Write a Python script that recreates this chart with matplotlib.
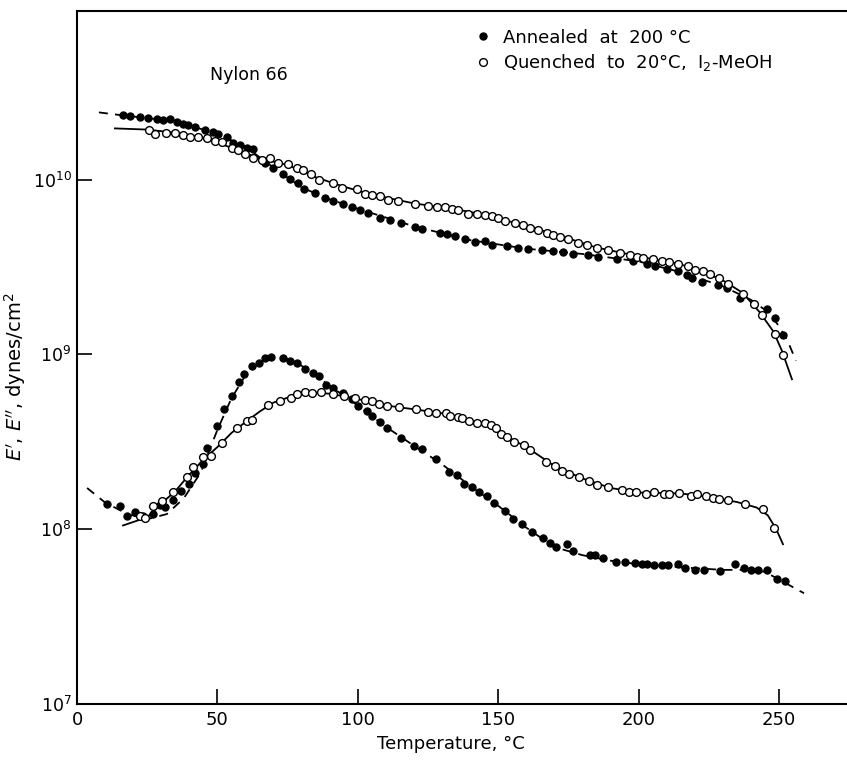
import matplotlib
matplotlib.use("Agg")
import matplotlib.pyplot as plt
import numpy as np

plt.rcParams['font.family'] = ['DejaVu Sans']

# ---------------- data ----------------
# Annealed at 200 C : E' (storage modulus), filled circles
ann_Ep_T = [16.4, 18.9, 22.4, 25.3, 28.5, 30.6, 33.1, 35.6, 37.7, 39.5, 42.0, 45.6, 48.4, 50.2, 53.4,
            55.6, 58.0, 60.5, 62.7, 67.0, 69.8, 73.4, 75.9, 78.7, 80.8, 84.8, 88.3, 91.2, 94.7, 97.9,
            100.8, 103.6, 107.9, 111.5, 115.4, 120.4, 122.9, 129.3, 131.8, 134.6, 138.2, 141.7, 145.3,
            147.8, 153.1, 157.1, 160.6, 165.6, 169.5, 173.1, 176.6, 182.0, 185.5, 192.3, 198.0, 203.0,
            205.8, 210.1, 214.0, 217.2, 219.0, 222.6, 228.3, 231.5, 236.1, 245.7, 248.6, 251.4]
ann_Ep_E = [2.33e10, 2.30e10, 2.27e10, 2.24e10, 2.21e10, 2.18e10, 2.21e10, 2.12e10, 2.09e10, 2.04e10,
            1.99e10, 1.91e10, 1.86e10, 1.81e10, 1.74e10, 1.61e10, 1.57e10, 1.52e10, 1.49e10, 1.24e10,
            1.16e10, 1.08e10, 1.01e10, 9.61e9, 8.77e9, 8.42e9, 7.88e9, 7.58e9, 7.28e9, 6.92e9,
            6.73e9, 6.47e9, 6.05e9, 5.90e9, 5.67e9, 5.38e9, 5.24e9, 4.97e9, 4.91e9, 4.78e9, 4.59e9,
            4.41e9, 4.47e9, 4.24e9, 4.18e9, 4.07e9, 4.02e9, 3.97e9, 3.92e9, 3.87e9, 3.77e9, 3.72e9,
            3.62e9, 3.53e9, 3.44e9, 3.30e9, 3.21e9, 3.09e9, 3.01e9, 2.85e9, 2.74e9, 2.60e9, 2.50e9,
            2.40e9, 2.11e9, 1.82e9, 1.62e9, 1.29e9]
ann_Ep_curve_T = [7.8, 16, 30, 40, 50, 60, 70, 80, 90, 100, 120, 140, 160, 180, 200, 215, 230, 240,
                  246, 250, 253, 256]
ann_Ep_curve_E = [2.42e10, 2.33e10, 2.2e10, 2.04e10, 1.82e10, 1.54e10, 1.17e10, 9.0e9, 7.7e9, 6.8e9,
                  5.4e9, 4.5e9, 4.02e9, 3.75e9, 3.4e9, 2.95e9, 2.45e9, 2.05e9, 1.75e9, 1.45e9, 1.2e9,
                  9.2e8]

# Quenched to 20 C, I2-MeOH : E', open circles
que_Ep_T = [25.6, 27.8, 31.7, 34.9, 37.7, 40.2, 43.1, 46.3, 49.1, 51.6, 55.2, 57.3, 59.8, 62.7, 65.9,
            68.7, 71.6, 75.1, 78.3, 80.5, 83.3, 86.2, 91.2, 94.4, 99.7, 102.6, 105.1, 107.9, 110.8,
            114.3, 120.4, 125.0, 128.2, 131.1, 133.5, 135.7, 139.2, 142.5, 145.3, 147.8, 149.9, 152.4,
            156.0, 158.8, 161.3, 164.2, 167.4, 169.5, 172.0, 174.9, 178.4, 181.6, 185.2, 189.1, 193.4,
            196.9, 199.4, 201.6, 205.1, 208.3, 210.8, 214.0, 217.6, 220.1, 222.9, 225.4, 228.6, 231.8,
            237.2, 241.1, 243.9, 248.6, 251.4]
que_Ep_E = [1.91e10, 1.81e10, 1.84e10, 1.84e10, 1.79e10, 1.76e10, 1.74e10, 1.72e10, 1.67e10, 1.63e10,
            1.51e10, 1.47e10, 1.39e10, 1.32e10, 1.30e10, 1.32e10, 1.25e10, 1.22e10, 1.17e10, 1.13e10,
            1.07e10, 1.00e10, 9.61e9, 9.0e9, 8.88e9, 8.31e9, 8.20e9, 8.0e9, 7.68e9, 7.58e9, 7.28e9,
            7.10e9, 7.0e9, 6.92e9, 6.82e9, 6.73e9, 6.38e9, 6.38e9, 6.30e9, 6.22e9, 6.05e9, 5.82e9,
            5.67e9, 5.52e9, 5.31e9, 5.17e9, 4.97e9, 4.84e9, 4.71e9, 4.59e9, 4.36e9, 4.24e9, 4.07e9,
            3.97e9, 3.82e9, 3.72e9, 3.62e9, 3.57e9, 3.53e9, 3.44e9, 3.39e9, 3.30e9, 3.21e9, 3.05e9,
            3.01e9, 2.89e9, 2.74e9, 2.54e9, 2.22e9, 1.95e9, 1.68e9, 1.31e9, 9.93e8]
que_Ep_curve_T = [13.5, 25, 35, 45, 55, 65, 75, 85, 95, 105, 120, 135, 145, 155, 165, 175, 185, 195,
                  205, 215, 222, 230, 237, 243, 248, 251, 254.6]
que_Ep_curve_E = [1.96e10, 1.93e10, 1.85e10, 1.73e10, 1.52e10, 1.32e10, 1.21e10, 1.03e10, 9.1e9,
                  8.2e9, 7.3e9, 6.75e9, 6.3e9, 5.7e9, 5.15e9, 4.6e9, 4.08e9, 3.78e9, 3.5e9, 3.27e9,
                  3.0e9, 2.65e9, 2.25e9, 1.75e9, 1.35e9, 1.05e9, 7.2e8]

# Annealed : E'' (loss modulus), filled circles
ann_Epp_T = [10.7, 15.3, 17.8, 20.7, 23.5, 27.1, 29.6, 31.3, 34.2, 37.0, 39.9, 42.0, 44.9, 46.3, 49.9,
             52.4, 55.2, 57.7, 59.5, 62.3, 64.8, 67.0, 69.1, 73.4, 75.9, 78.3, 81.2, 84.0, 86.2, 88.7,
             91.2, 94.7, 97.9, 100.1, 103.3, 105.1, 107.9, 110.4, 115.4, 120.0, 122.9, 127.8, 132.5,
             135.3, 137.8, 140.7, 143.2, 146.0, 148.5, 152.4, 155.3, 158.5, 162.0, 166.0, 168.4, 170.6,
             174.5, 176.6, 182.7, 184.5, 187.3, 192.0, 195.2, 198.7, 201.2, 203.0, 205.5, 208.3, 210.5,
             214.0, 216.5, 220.1, 223.3, 229.0, 234.3, 237.5, 240.0, 242.5, 245.7, 249.3, 252.1]
ann_Epp_E = [1.39e8, 1.36e8, 1.19e8, 1.25e8, 1.19e8, 1.22e8, 1.37e8, 1.34e8, 1.47e8, 1.65e8, 1.81e8,
             2.09e8, 2.36e8, 2.91e8, 3.89e8, 4.87e8, 5.78e8, 6.95e8, 7.73e8, 8.59e8, 8.94e8, 9.55e8,
             9.68e8, 9.55e8, 9.18e8, 8.94e8, 8.26e8, 7.83e8, 7.53e8, 6.68e8, 6.43e8, 6.01e8, 5.56e8,
             5.07e8, 4.75e8, 4.44e8, 4.10e8, 3.79e8, 3.32e8, 2.99e8, 2.87e8, 2.52e8, 2.12e8, 2.04e8,
             1.81e8, 1.74e8, 1.63e8, 1.55e8, 1.41e8, 1.27e8, 1.14e8, 1.07e8, 9.61e7, 8.87e7, 8.31e7,
             7.89e7, 8.20e7, 7.48e7, 7.10e7, 7.10e7, 6.82e7, 6.47e7, 6.47e7, 6.38e7, 6.30e7, 6.30e7,
             6.22e7, 6.22e7, 6.22e7, 6.30e7, 5.98e7, 5.82e7, 5.82e7, 5.74e7, 6.30e7, 5.98e7, 5.82e7,
             5.82e7, 5.82e7, 5.17e7, 5.04e7]
ann_Epp_curve_T = [3.6, 10, 18, 25, 32, 38, 44, 50, 55, 60, 65, 70, 75, 80, 85, 90, 100, 110, 120, 130,
                   140, 150, 160, 170, 180, 190, 200, 215, 230, 240, 245, 250, 258.9]
ann_Epp_curve_E = [1.72e8, 1.42e8, 1.22e8, 1.14e8, 1.22e8, 1.5e8, 2.1e8, 3.7e8, 5.6e8, 7.6e8, 9.0e8,
                   9.6e8, 9.4e8, 8.6e8, 7.6e8, 6.6e8, 5.1e8, 3.85e8, 3.0e8, 2.35e8, 1.77e8, 1.36e8,
                   1.02e8, 7.9e7, 7.1e7, 6.6e7, 6.3e7, 6.05e7, 5.85e7, 5.85e7, 5.7e7, 5.15e7, 4.3e7]

# Quenched : E'', open circles
que_Epp_T = [22.4, 24.2, 27.1, 30.3, 34.2, 39.2, 41.3, 44.9, 47.7, 51.6, 57.0, 60.5, 62.3, 68.0, 72.3,
             76.2, 78.3, 81.2, 83.7, 86.9, 91.2, 95.1, 99.0, 102.6, 105.1, 107.5, 110.4, 114.7, 120.7,
             125.0, 127.8, 131.4, 132.8, 135.7, 137.1, 139.6, 142.5, 145.3, 147.4, 149.2, 151.0, 153.1,
             155.6, 159.2, 161.3, 167.0, 170.2, 172.7, 175.2, 178.8, 182.3, 185.2, 189.1, 194.1, 196.6,
             199.1, 202.6, 205.5, 209.0, 210.8, 214.4, 218.7, 220.8, 224.0, 226.5, 228.6, 231.8, 237.9,
             244.3, 248.2]
que_Epp_E = [1.19e8, 1.16e8, 1.36e8, 1.45e8, 1.63e8, 1.99e8, 2.26e8, 2.59e8, 2.62e8, 3.11e8, 3.79e8,
             4.16e8, 4.22e8, 5.14e8, 5.42e8, 5.64e8, 5.94e8, 6.10e8, 6.01e8, 6.10e8, 5.94e8, 5.78e8,
             5.64e8, 5.48e8, 5.42e8, 5.20e8, 5.07e8, 5.00e8, 4.87e8, 4.68e8, 4.62e8, 4.62e8, 4.44e8,
             4.38e8, 4.33e8, 4.16e8, 4.05e8, 4.05e8, 3.94e8, 3.79e8, 3.50e8, 3.37e8, 3.15e8, 3.03e8,
             2.84e8, 2.42e8, 2.30e8, 2.15e8, 2.07e8, 1.99e8, 1.88e8, 1.79e8, 1.74e8, 1.67e8, 1.63e8,
             1.63e8, 1.59e8, 1.63e8, 1.59e8, 1.59e8, 1.61e8, 1.55e8, 1.59e8, 1.55e8, 1.51e8, 1.49e8,
             1.47e8, 1.39e8, 1.30e8, 1.01e8]
que_Epp_curve_T = [16.4, 25, 30, 35, 40, 45, 50, 55, 60, 65, 70, 75, 80, 85, 90, 95, 100, 110, 120, 130,
                   140, 147, 152, 160, 170, 180, 190, 200, 215, 225, 235, 242, 246, 249, 251.4]
que_Epp_curve_E = [1.05e8, 1.17e8, 1.4e8, 1.65e8, 2.05e8, 2.5e8, 2.95e8, 3.55e8, 4.1e8, 4.7e8, 5.3e8,
                   5.65e8, 5.95e8, 6.05e8, 5.95e8, 5.75e8, 5.55e8, 5.1e8, 4.85e8, 4.6e8, 4.15e8, 3.95e8,
                   3.45e8, 2.95e8, 2.3e8, 1.95e8, 1.72e8, 1.62e8, 1.6e8, 1.53e8, 1.43e8, 1.33e8, 1.2e8,
                   1.0e8, 8.2e7]

x_ticks = [0, 50, 100, 150, 200, 250]
y_ticks = [1e7, 1e8, 1e9, 1e10]

# ---------------- figure ----------------
fig = plt.figure(figsize=(8.47, 7.61), dpi=100)
ax = fig.add_axes([77 / 847, 1 - 704 / 761, 1 - 77 / 847, (704 - 11) / 761])
ax.set_yscale('log')
ax.set_xlim(0, 274.2)
ax.set_ylim(1e7, 9.2e10)

dash = (0, (5, 4))
lw = 1.3
# curves
ax.plot(ann_Ep_curve_T, ann_Ep_curve_E, color='black', lw=lw, ls=dash)
ax.plot(que_Ep_curve_T, que_Ep_curve_E, color='black', lw=lw, ls='-')
ax.plot(ann_Epp_curve_T, ann_Epp_curve_E, color='black', lw=lw, ls=dash)
ax.plot(que_Epp_curve_T, que_Epp_curve_E, color='black', lw=lw, ls='-')

# data points
filled = dict(ls='none', marker='o', ms=5.2, mfc='black', mec='black', mew=0.8)
opened = dict(ls='none', marker='o', ms=5.6, mfc='white', mec='black', mew=1.0)
ax.plot(ann_Ep_T, ann_Ep_E, label='Annealed  at  200 °C', **filled)
ax.plot(ann_Epp_T, ann_Epp_E, **filled)
ax.plot(que_Ep_T, que_Ep_E, label=r'Quenched  to  20°C,  $\mathrm{I_2}$-MeOH', **opened)
ax.plot(que_Epp_T, que_Epp_E, **opened)

# axes styling
for s in ['left', 'bottom', 'top']:
    ax.spines[s].set_linewidth(1.5)
ax.spines['right'].set_visible(False)
ax.set_xticks(x_ticks)
ax.set_yticks(y_ticks)
ax.minorticks_off()
ax.tick_params(axis='both', direction='in', length=11, width=1.2, labelsize=13)
ax.tick_params(axis='y', pad=4, labelsize=12.5)
ax.tick_params(axis='x', pad=5)
ax.tick_params(top=False, right=False)

ax.set_xlabel('Temperature, °C', fontsize=13)
ax.xaxis.set_label_coords(0.485, -0.045)
ax.set_ylabel(r"$E'$, $E''$, dynes/cm$^2$", fontsize=14)
ax.yaxis.set_label_coords(-0.064, 0.472)

ax.text(0.173, 0.908, 'Nylon 66', transform=ax.transAxes, fontsize=12.5,
        ha='left', va='center')

leg = ax.legend(loc='upper left', bbox_to_anchor=(0.511, 0.985), frameon=False,
                fontsize=13, handlelength=0.6, handletextpad=0.8, labelspacing=0.3,
                borderaxespad=0)

fig.savefig('out.png', dpi=100)
